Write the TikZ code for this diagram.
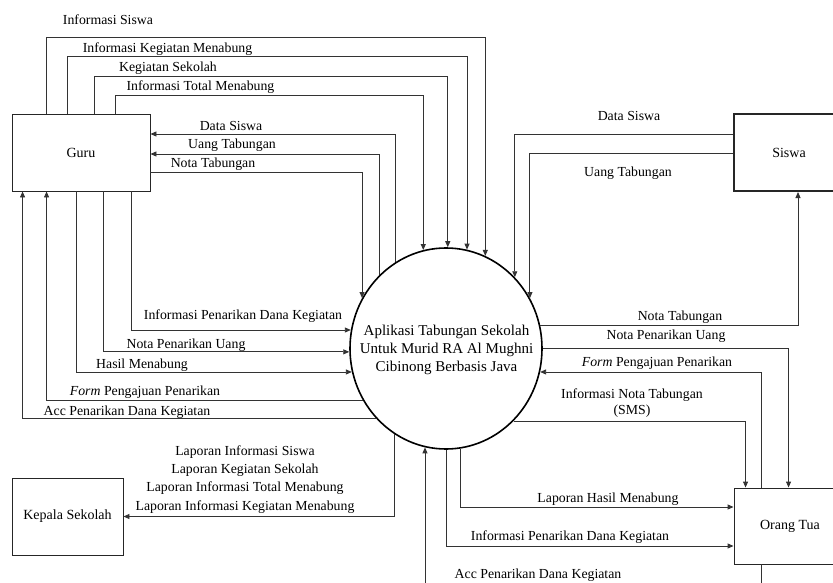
\documentclass[tikz,border=0pt]{standalone}
\usepackage{fontspec}
\setmainfont{Liberation Serif}
\usetikzlibrary{shapes.geometric,arrows.meta}
\tikzset{
  lbl/.style={font=\fontsize{13.8}{16}\selectfont, inner sep=0pt},
  ent/.style={draw=black!85, line width=0.9pt, minimum width=138pt, minimum height=77pt, inner sep=0pt, font=\fontsize{14}{16}\selectfont},
  arr/.style={draw=black!80, line width=0.9pt, -{Triangle[length=6pt,width=5pt]}},
  proc/.style={ellipse, draw=black, line width=1.6pt, minimum width=192pt, minimum height=201pt, inner sep=0pt},
}
\begin{document}
\begin{tikzpicture}[x=1pt,y=-1pt]
\useasboundingbox (0,0) rectangle (833,583);
\fill[white] (0,0) rectangle (833,583);
\clip (0,0) rectangle (833,583);

% entities
\node[ent] (Guru) at (81,152.5) {Guru};
\node[ent, minimum width=111pt] (KS) at (67.5,516.5) {Kepala Sekolah};
\node[ent, minimum width=110pt, line width=2pt] (Siswa) at (789,152.5) {Siswa};
\node[ent, minimum width=110pt, minimum height=76pt] (OT) at (789,526) {\hspace*{2pt}Orang Tua};

% process
\node[proc] (C) at (446,348.5) {};
\node[align=center, inner sep=0pt, font=\fontsize{15}{18}\selectfont] (Ctext) at (446.5,350) {Aplikasi Tabungan Sekolah\\Untuk Murid RA Al Mughni\\Cibinong Berbasis Java};

% Guru top -> process
\draw[arr] ([xshift=35pt]Guru.north west) -- ++(0,-76) -| (C.67.0);
\draw[arr] ([xshift=56pt]Guru.north west) -- ++(0,-57) -| (C.78.5);
\draw[arr] ([xshift=83pt]Guru.north west) -- ++(0,-37) -| (C.89.4);
\draw[arr] ([xshift=104pt]Guru.north west) -- ++(0,-18) -| (C.103.9);
\node[lbl] (t1) at (108,19.5) {Informasi Siswa};
\node[lbl] (t2) at (167.5,49) {Informasi Kegiatan Menabung};
\node[lbl] (t3) at (168,68.5) {Kegiatan Sekolah};
\node[lbl] (t4) at (200.5,87.5) {Informasi Total Menabung};

% Guru right side
\draw[arr] (C.120.2) |- ([yshift=18.5pt]Guru.east);
\draw[arr] (C.132.9) |- ([yshift=-1.5pt]Guru.east);
\draw[arr] ([yshift=-19.5pt]Guru.east) -| (C.149.9);
\node[lbl] (r1) at (231,126) {Data Siswa};
\node[lbl] (r2) at (232,145) {Uang Tabungan};
\node[lbl] (r3) at (213,164) {Nota Tabungan};

% Guru bottom
\draw[arr] (C.225.9) -| ([xshift=11pt]Guru.south west);
\draw[arr] (C.212.7) -| ([xshift=35pt]Guru.south west);
\draw[arr] ([xshift=65pt]Guru.south west) |- (C.194.7);
\draw[arr] ([xshift=92pt]Guru.south west) |- (C.182.7);
\draw[arr] ([xshift=120pt]Guru.south west) |- (C.169.5);
\node[lbl] (b1) at (243,316.5) {Informasi Penarikan Dana Kegiatan};
\node[lbl] (b2) at (186,345.5) {Nota Penarikan Uang};
\node[lbl] (b3) at (142,365) {Hasil Menabung};
\node[lbl] (b4) at (145,392.5) {\textit{Form} Pengajuan Penarikan};
\node[lbl] (b5) at (127,412.5) {Acc Penarikan Dana Kegiatan};

% Siswa
\draw[arr] ([yshift=18.5pt]Siswa.west) -| (C.46.2);
\draw[arr] ([yshift=-0.5pt]Siswa.west) -| (C.31.3);
\draw[arr] (C.14.1) -| ([xshift=65pt]Siswa.south west);
\node[lbl] (s1) at (629,116) {Data Siswa};
\node[lbl] (s2) at (628,173) {Uang Tabungan};
\node[lbl] (s3) at (680,317) {Nota Tabungan};

% Orang Tua
\draw[arr] (C.-0.3) -| ([xshift=55pt]OT.north west);
\draw[arr] ([xshift=28pt]OT.north west) |- (C.-14.7);
\draw[arr] (C.-47.5) -| ([xshift=12pt]OT.north west);
\draw[arr] (C.-82.0) |- ([yshift=19pt]OT.west);
\draw[arr] (C.270.6) |- ([yshift=-20pt]OT.west);
\draw[arr] ([xshift=28pt]OT.south west) -- ++(0,40) -| (C.258.5);
\node[lbl] (o1) at (666,336) {Nota Penarikan Uang};
\node[lbl] (o2) at (657,363) {\textit{Form} Pengajuan Penarikan};
\node[lbl, align=center, font=\fontsize{13.8}{16}\selectfont] (o3) at (632,403) {Informasi Nota Tabungan\\(SMS)};
\node[lbl] (o4) at (608,499) {Laporan Hasil Menabung};
\node[lbl] (o5) at (570,537) {Informasi Penarikan Dana Kegiatan};
\node[lbl] (o6) at (538,575) {Acc Penarikan Dana Kegiatan};

% Kepala Sekolah
\draw[arr] (C.239.8) |- (KS.east);
\node[lbl, align=center, font=\fontsize{13.8}{18.3}\selectfont] (k1) at (245,479.2) {Laporan Informasi Siswa\\Laporan Kegiatan Sekolah\\Laporan Informasi Total Menabung\\Laporan Informasi Kegiatan Menabung};
\end{tikzpicture}
\end{document}
